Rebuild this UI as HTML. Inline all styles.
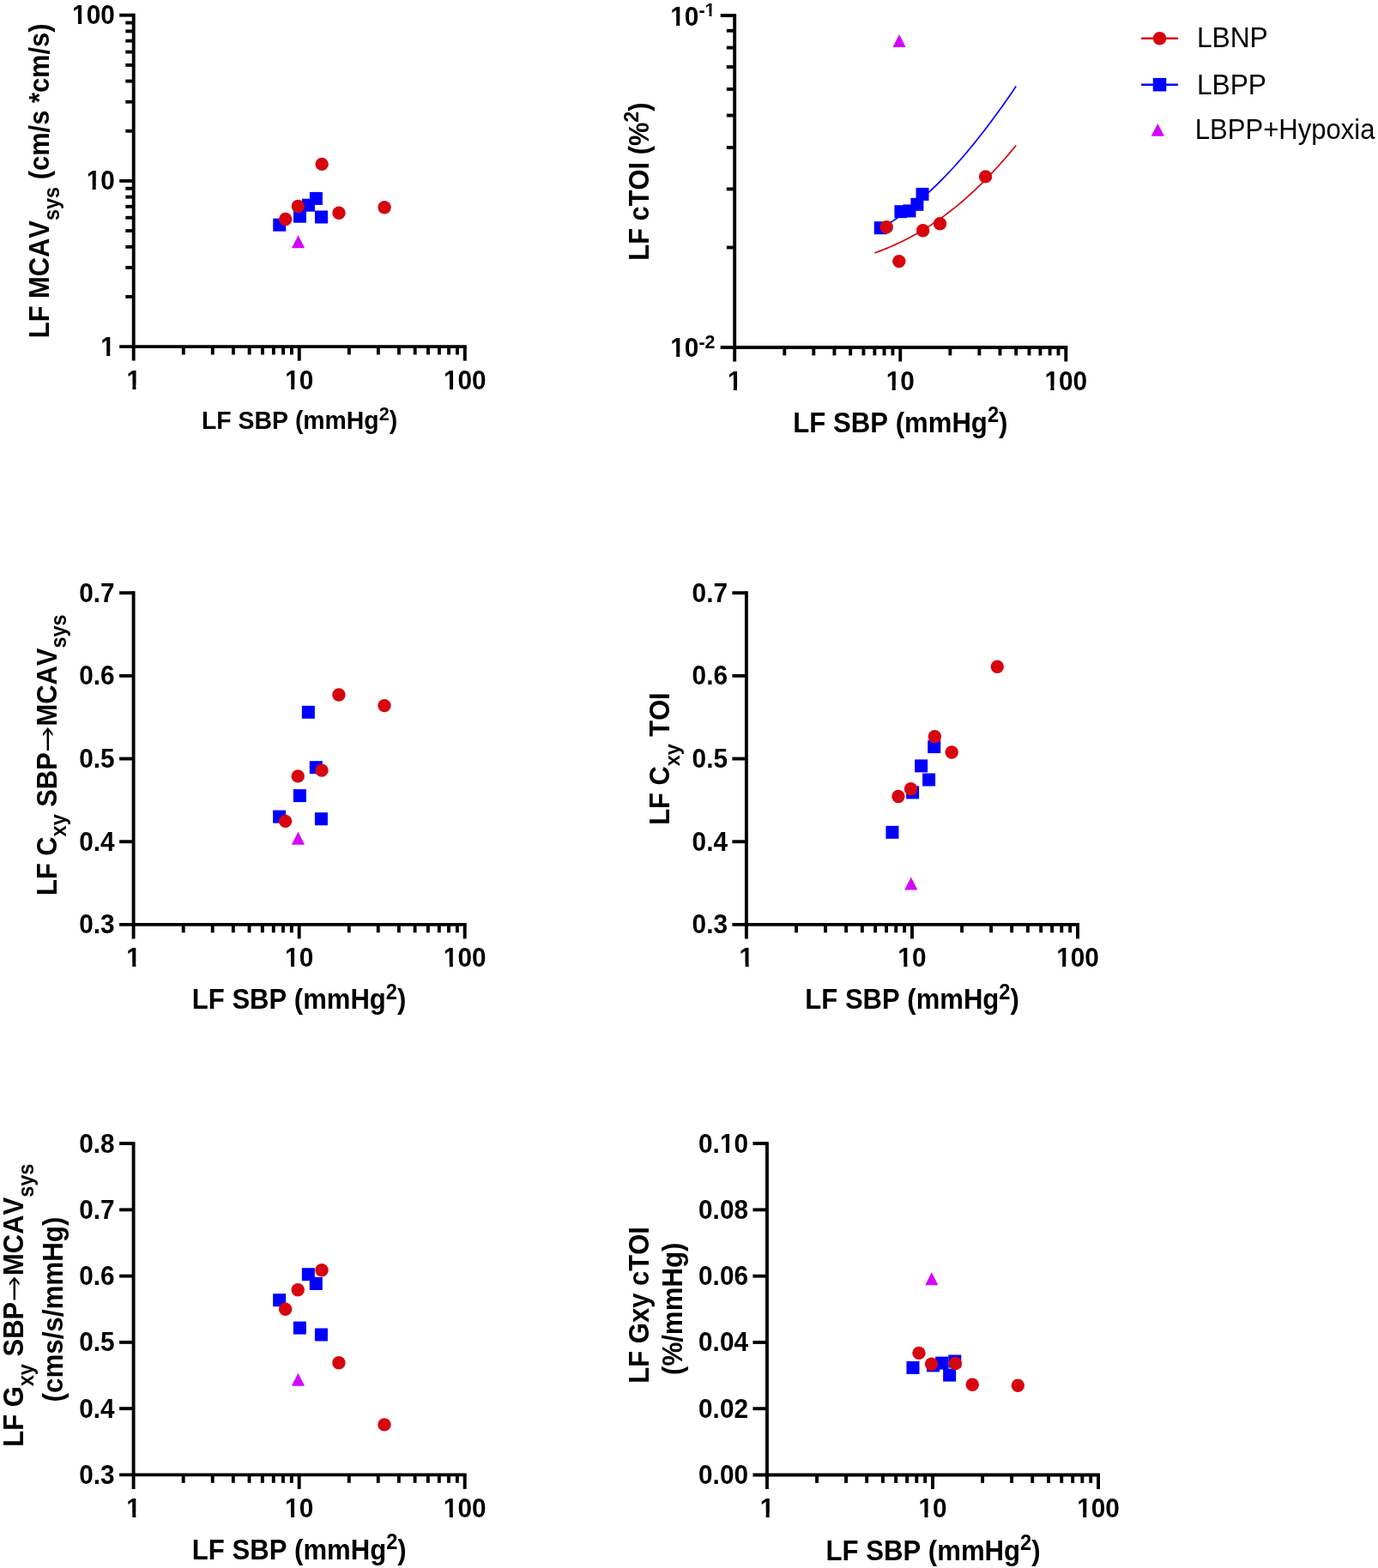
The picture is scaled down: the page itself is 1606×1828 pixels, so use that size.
<!DOCTYPE html>
<html><head><meta charset="utf-8"><title>LF SBP scatter plots</title>
<style>html,body{margin:0;padding:0;background:#fff;width:1606px;height:1828px;overflow:hidden}svg{display:block}</style>
</head><body>
<svg width="1606" height="1828" viewBox="0 0 1606 1828" font-family="'Liberation Sans', Arial, Helvetica, sans-serif" style="font-kerning:none;font-feature-settings:'kern' 0">
<rect width="1606" height="1828" fill="#fff"/>
<line x1="155.7" y1="15.75" x2="155.7" y2="420.6" stroke="#000" stroke-width="3.9" stroke-linecap="butt"/>
<line x1="139.2" y1="404.1" x2="543.75" y2="404.1" stroke="#000" stroke-width="3.9" stroke-linecap="butt"/>
<line x1="213.81" y1="404.1" x2="213.81" y2="413.5" stroke="#000" stroke-width="3.9" stroke-linecap="butt"/>
<line x1="247.81" y1="404.1" x2="247.81" y2="413.5" stroke="#000" stroke-width="3.9" stroke-linecap="butt"/>
<line x1="271.93" y1="404.1" x2="271.93" y2="413.5" stroke="#000" stroke-width="3.9" stroke-linecap="butt"/>
<line x1="290.64" y1="404.1" x2="290.64" y2="413.5" stroke="#000" stroke-width="3.9" stroke-linecap="butt"/>
<line x1="305.92" y1="404.1" x2="305.92" y2="413.5" stroke="#000" stroke-width="3.9" stroke-linecap="butt"/>
<line x1="318.85" y1="404.1" x2="318.85" y2="413.5" stroke="#000" stroke-width="3.9" stroke-linecap="butt"/>
<line x1="330.04" y1="404.1" x2="330.04" y2="413.5" stroke="#000" stroke-width="3.9" stroke-linecap="butt"/>
<line x1="339.92" y1="404.1" x2="339.92" y2="413.5" stroke="#000" stroke-width="3.9" stroke-linecap="butt"/>
<line x1="406.86" y1="404.1" x2="406.86" y2="413.5" stroke="#000" stroke-width="3.9" stroke-linecap="butt"/>
<line x1="440.86" y1="404.1" x2="440.86" y2="413.5" stroke="#000" stroke-width="3.9" stroke-linecap="butt"/>
<line x1="464.98" y1="404.1" x2="464.98" y2="413.5" stroke="#000" stroke-width="3.9" stroke-linecap="butt"/>
<line x1="483.69" y1="404.1" x2="483.69" y2="413.5" stroke="#000" stroke-width="3.9" stroke-linecap="butt"/>
<line x1="498.97" y1="404.1" x2="498.97" y2="413.5" stroke="#000" stroke-width="3.9" stroke-linecap="butt"/>
<line x1="511.9" y1="404.1" x2="511.9" y2="413.5" stroke="#000" stroke-width="3.9" stroke-linecap="butt"/>
<line x1="523.09" y1="404.1" x2="523.09" y2="413.5" stroke="#000" stroke-width="3.9" stroke-linecap="butt"/>
<line x1="532.97" y1="404.1" x2="532.97" y2="413.5" stroke="#000" stroke-width="3.9" stroke-linecap="butt"/>
<line x1="348.75" y1="404.1" x2="348.75" y2="420.6" stroke="#000" stroke-width="3.9" stroke-linecap="butt"/>
<line x1="541.8" y1="404.1" x2="541.8" y2="420.6" stroke="#000" stroke-width="3.9" stroke-linecap="butt"/>
<line x1="146.3" y1="345.94" x2="155.7" y2="345.94" stroke="#000" stroke-width="3.9" stroke-linecap="butt"/>
<line x1="146.3" y1="311.92" x2="155.7" y2="311.92" stroke="#000" stroke-width="3.9" stroke-linecap="butt"/>
<line x1="146.3" y1="287.78" x2="155.7" y2="287.78" stroke="#000" stroke-width="3.9" stroke-linecap="butt"/>
<line x1="146.3" y1="269.06" x2="155.7" y2="269.06" stroke="#000" stroke-width="3.9" stroke-linecap="butt"/>
<line x1="146.3" y1="253.76" x2="155.7" y2="253.76" stroke="#000" stroke-width="3.9" stroke-linecap="butt"/>
<line x1="146.3" y1="240.83" x2="155.7" y2="240.83" stroke="#000" stroke-width="3.9" stroke-linecap="butt"/>
<line x1="146.3" y1="229.62" x2="155.7" y2="229.62" stroke="#000" stroke-width="3.9" stroke-linecap="butt"/>
<line x1="146.3" y1="219.74" x2="155.7" y2="219.74" stroke="#000" stroke-width="3.9" stroke-linecap="butt"/>
<line x1="146.3" y1="152.74" x2="155.7" y2="152.74" stroke="#000" stroke-width="3.9" stroke-linecap="butt"/>
<line x1="146.3" y1="118.72" x2="155.7" y2="118.72" stroke="#000" stroke-width="3.9" stroke-linecap="butt"/>
<line x1="146.3" y1="94.58" x2="155.7" y2="94.58" stroke="#000" stroke-width="3.9" stroke-linecap="butt"/>
<line x1="146.3" y1="75.86" x2="155.7" y2="75.86" stroke="#000" stroke-width="3.9" stroke-linecap="butt"/>
<line x1="146.3" y1="60.56" x2="155.7" y2="60.56" stroke="#000" stroke-width="3.9" stroke-linecap="butt"/>
<line x1="146.3" y1="47.63" x2="155.7" y2="47.63" stroke="#000" stroke-width="3.9" stroke-linecap="butt"/>
<line x1="146.3" y1="36.42" x2="155.7" y2="36.42" stroke="#000" stroke-width="3.9" stroke-linecap="butt"/>
<line x1="146.3" y1="26.54" x2="155.7" y2="26.54" stroke="#000" stroke-width="3.9" stroke-linecap="butt"/>
<line x1="139.2" y1="210.9" x2="155.7" y2="210.9" stroke="#000" stroke-width="3.9" stroke-linecap="butt"/>
<line x1="139.2" y1="17.7" x2="155.7" y2="17.7" stroke="#000" stroke-width="3.9" stroke-linecap="butt"/>
<text transform="translate(155.7 453.6) scale(1 1.03)" text-anchor="middle" font-size="29.8" font-weight="bold">1</text>
<rect x="148.49" y="448.67" width="5.88" height="5.83" fill="#fff"/>
<rect x="158.46" y="448.67" width="5.5" height="5.83" fill="#fff"/>
<text transform="translate(348.75 453.6) scale(1 1.03)" text-anchor="middle" font-size="29.8" font-weight="bold">10</text>
<rect x="333.25" y="448.67" width="5.88" height="5.83" fill="#fff"/>
<rect x="343.22" y="448.67" width="5.5" height="5.83" fill="#fff"/>
<text transform="translate(541.8 453.6) scale(1 1.03)" text-anchor="middle" font-size="29.8" font-weight="bold">100</text>
<rect x="518.02" y="448.67" width="5.88" height="5.83" fill="#fff"/>
<rect x="527.98" y="448.67" width="5.5" height="5.83" fill="#fff"/>
<text transform="translate(133.8 414.62) scale(1 1.03)" text-anchor="end" font-size="29.8" font-weight="bold">1</text>
<rect x="118.3" y="409.68" width="5.88" height="5.83" fill="#fff"/>
<rect x="128.27" y="409.68" width="5.5" height="5.83" fill="#fff"/>
<text transform="translate(133.8 221.42) scale(1 1.03)" text-anchor="end" font-size="29.8" font-weight="bold">10</text>
<rect x="101.73" y="216.48" width="5.88" height="5.83" fill="#fff"/>
<rect x="111.7" y="216.48" width="5.5" height="5.83" fill="#fff"/>
<text transform="translate(133.8 28.22) scale(1 1.03)" text-anchor="end" font-size="29.8" font-weight="bold">100</text>
<rect x="85.16" y="23.28" width="5.88" height="5.83" fill="#fff"/>
<rect x="95.12" y="23.28" width="5.5" height="5.83" fill="#fff"/>
<text transform="translate(235 500.1) scale(1 1.06)" font-size="28.42" font-weight="bold" fill="#000">LF SBP (mmHg<tspan dy="-9.95" font-size="21.6">2</tspan><tspan dy="9.95">)</tspan></text>
<text transform="translate(57.4 394.17) rotate(-90) scale(1 1.06)" font-size="30.88" font-weight="bold">LF MCAV<tspan dy="11.3" font-size="23.47">sys</tspan><tspan dy="-11.3"> (cm/s *cm/s)</tspan></text>
<rect x="318.24" y="254.7" width="15" height="15" fill="#0000ff"/>
<rect x="341.92" y="244.7" width="15" height="15" fill="#0000ff"/>
<rect x="351.94" y="231.7" width="15" height="15" fill="#0000ff"/>
<rect x="360.89" y="223.9" width="15" height="15" fill="#0000ff"/>
<rect x="367.03" y="245.5" width="15" height="15" fill="#0000ff"/>
<path d="M347.57 274.15L355.17 289.25L339.97 289.25Z" fill="#d506fa"/>
<circle cx="332.72" cy="255.5" r="7.7" fill="#d7060e"/>
<circle cx="347.31" cy="240.5" r="7.7" fill="#d7060e"/>
<circle cx="375.14" cy="191.4" r="7.7" fill="#d7060e"/>
<circle cx="395" cy="248.3" r="7.7" fill="#d7060e"/>
<circle cx="448.08" cy="241.8" r="7.7" fill="#d7060e"/>
<line x1="856.2" y1="16.15" x2="856.2" y2="421.5" stroke="#000" stroke-width="3.9" stroke-linecap="butt"/>
<line x1="839.7" y1="405" x2="1244.25" y2="405" stroke="#000" stroke-width="3.9" stroke-linecap="butt"/>
<line x1="914.31" y1="405" x2="914.31" y2="414.4" stroke="#000" stroke-width="3.9" stroke-linecap="butt"/>
<line x1="948.31" y1="405" x2="948.31" y2="414.4" stroke="#000" stroke-width="3.9" stroke-linecap="butt"/>
<line x1="972.43" y1="405" x2="972.43" y2="414.4" stroke="#000" stroke-width="3.9" stroke-linecap="butt"/>
<line x1="991.14" y1="405" x2="991.14" y2="414.4" stroke="#000" stroke-width="3.9" stroke-linecap="butt"/>
<line x1="1006.42" y1="405" x2="1006.42" y2="414.4" stroke="#000" stroke-width="3.9" stroke-linecap="butt"/>
<line x1="1019.35" y1="405" x2="1019.35" y2="414.4" stroke="#000" stroke-width="3.9" stroke-linecap="butt"/>
<line x1="1030.54" y1="405" x2="1030.54" y2="414.4" stroke="#000" stroke-width="3.9" stroke-linecap="butt"/>
<line x1="1040.42" y1="405" x2="1040.42" y2="414.4" stroke="#000" stroke-width="3.9" stroke-linecap="butt"/>
<line x1="1107.36" y1="405" x2="1107.36" y2="414.4" stroke="#000" stroke-width="3.9" stroke-linecap="butt"/>
<line x1="1141.36" y1="405" x2="1141.36" y2="414.4" stroke="#000" stroke-width="3.9" stroke-linecap="butt"/>
<line x1="1165.48" y1="405" x2="1165.48" y2="414.4" stroke="#000" stroke-width="3.9" stroke-linecap="butt"/>
<line x1="1184.19" y1="405" x2="1184.19" y2="414.4" stroke="#000" stroke-width="3.9" stroke-linecap="butt"/>
<line x1="1199.47" y1="405" x2="1199.47" y2="414.4" stroke="#000" stroke-width="3.9" stroke-linecap="butt"/>
<line x1="1212.4" y1="405" x2="1212.4" y2="414.4" stroke="#000" stroke-width="3.9" stroke-linecap="butt"/>
<line x1="1223.59" y1="405" x2="1223.59" y2="414.4" stroke="#000" stroke-width="3.9" stroke-linecap="butt"/>
<line x1="1233.47" y1="405" x2="1233.47" y2="414.4" stroke="#000" stroke-width="3.9" stroke-linecap="butt"/>
<line x1="1049.25" y1="405" x2="1049.25" y2="421.5" stroke="#000" stroke-width="3.9" stroke-linecap="butt"/>
<line x1="1242.3" y1="405" x2="1242.3" y2="421.5" stroke="#000" stroke-width="3.9" stroke-linecap="butt"/>
<line x1="846.8" y1="288.53" x2="856.2" y2="288.53" stroke="#000" stroke-width="3.9" stroke-linecap="butt"/>
<line x1="846.8" y1="220.4" x2="856.2" y2="220.4" stroke="#000" stroke-width="3.9" stroke-linecap="butt"/>
<line x1="846.8" y1="172.06" x2="856.2" y2="172.06" stroke="#000" stroke-width="3.9" stroke-linecap="butt"/>
<line x1="846.8" y1="134.57" x2="856.2" y2="134.57" stroke="#000" stroke-width="3.9" stroke-linecap="butt"/>
<line x1="846.8" y1="103.93" x2="856.2" y2="103.93" stroke="#000" stroke-width="3.9" stroke-linecap="butt"/>
<line x1="846.8" y1="78.03" x2="856.2" y2="78.03" stroke="#000" stroke-width="3.9" stroke-linecap="butt"/>
<line x1="846.8" y1="55.59" x2="856.2" y2="55.59" stroke="#000" stroke-width="3.9" stroke-linecap="butt"/>
<line x1="846.8" y1="35.8" x2="856.2" y2="35.8" stroke="#000" stroke-width="3.9" stroke-linecap="butt"/>
<line x1="839.7" y1="18.1" x2="856.2" y2="18.1" stroke="#000" stroke-width="3.9" stroke-linecap="butt"/>
<text transform="translate(856.2 454.5) scale(1 1.03)" text-anchor="middle" font-size="29.8" font-weight="bold">1</text>
<rect x="848.99" y="449.57" width="5.88" height="5.83" fill="#fff"/>
<rect x="858.96" y="449.57" width="5.5" height="5.83" fill="#fff"/>
<text transform="translate(1049.25 454.5) scale(1 1.03)" text-anchor="middle" font-size="29.8" font-weight="bold">10</text>
<rect x="1033.75" y="449.57" width="5.88" height="5.83" fill="#fff"/>
<rect x="1043.72" y="449.57" width="5.5" height="5.83" fill="#fff"/>
<text transform="translate(1242.3 454.5) scale(1 1.03)" text-anchor="middle" font-size="29.8" font-weight="bold">100</text>
<rect x="1218.52" y="449.57" width="5.88" height="5.83" fill="#fff"/>
<rect x="1228.48" y="449.57" width="5.5" height="5.83" fill="#fff"/>
<text transform="translate(781.22 29.6) scale(1 1.03)" font-size="29.8" font-weight="bold" fill="#000">10<tspan dy="-10.28" font-size="21.46">-1</tspan></text>
<rect x="782.3" y="24.67" width="5.88" height="5.83" fill="#fff"/>
<rect x="792.27" y="24.67" width="5.5" height="5.83" fill="#fff"/>
<rect x="822.07" y="14.96" width="4.46" height="4.96" fill="#fff"/>
<rect x="829.47" y="14.96" width="4.18" height="4.96" fill="#fff"/>
<text transform="translate(781.22 416.4) scale(1 1.03)" font-size="29.8" font-weight="bold" fill="#000">10<tspan dy="-10.28" font-size="21.46">-2</tspan></text>
<rect x="782.3" y="411.47" width="5.88" height="5.83" fill="#fff"/>
<rect x="792.27" y="411.47" width="5.5" height="5.83" fill="#fff"/>
<text transform="translate(924.32 504) scale(1 1.06)" font-size="31.14" font-weight="bold" fill="#000">LF SBP (mmHg<tspan dy="-10.9" font-size="23.66">2</tspan><tspan dy="10.9">)</tspan></text>
<text transform="translate(755.6 303.66) rotate(-90) scale(1 1.06)" font-size="30.85" font-weight="bold">LF cTOI (%<tspan dy="-10.8" font-size="23.44">2</tspan><tspan dy="10.8">)</tspan></text>
<polyline points="1019.35,270.93 1022.09,269.34 1024.84,267.71 1027.59,266.04 1030.34,264.33 1033.08,262.59 1035.83,260.8 1038.58,258.98 1041.32,257.11 1044.07,255.21 1046.82,253.26 1049.57,251.28 1052.31,249.25 1055.06,247.18 1057.81,245.06 1060.56,242.91 1063.3,240.71 1066.05,238.46 1068.8,236.18 1071.55,233.85 1074.29,231.47 1077.04,229.05 1079.79,226.59 1082.53,224.08 1085.28,221.53 1088.03,218.93 1090.78,216.29 1093.52,213.6 1096.27,210.86 1099.02,208.09 1101.77,205.26 1104.51,202.39 1107.26,199.48 1110.01,196.52 1112.76,193.52 1115.5,190.47 1118.25,187.38 1121,184.24 1123.74,181.06 1126.49,177.84 1129.24,174.57 1131.99,171.26 1134.73,167.9 1137.48,164.5 1140.23,161.06 1142.98,157.58 1145.72,154.06 1148.47,150.49 1151.22,146.89 1153.97,143.24 1156.71,139.55 1159.46,135.83 1162.21,132.06 1164.95,128.25 1167.7,124.41 1170.45,120.53 1173.2,116.61 1175.94,112.66 1178.69,108.67 1181.44,104.64 1184.19,100.58" fill="none" stroke="#0000ff" stroke-width="1.7" stroke-linejoin="round"/>
<polyline points="1019.35,294.96 1022.09,293.95 1024.84,292.92 1027.59,291.85 1030.34,290.76 1033.08,289.64 1035.83,288.49 1038.58,287.31 1041.32,286.1 1044.07,284.86 1046.82,283.58 1049.57,282.27 1052.31,280.93 1055.06,279.56 1057.81,278.15 1060.56,276.71 1063.3,275.23 1066.05,273.72 1068.8,272.17 1071.55,270.59 1074.29,268.96 1077.04,267.3 1079.79,265.6 1082.53,263.87 1085.28,262.09 1088.03,260.27 1090.78,258.42 1093.52,256.52 1096.27,254.58 1099.02,252.6 1101.77,250.58 1104.51,248.52 1107.26,246.41 1110.01,244.26 1112.76,242.07 1115.5,239.84 1118.25,237.56 1121,235.23 1123.74,232.87 1126.49,230.46 1129.24,228 1131.99,225.5 1134.73,222.96 1137.48,220.37 1140.23,217.73 1142.98,215.05 1145.72,212.33 1148.47,209.56 1151.22,206.74 1153.97,203.88 1156.71,200.98 1159.46,198.03 1162.21,195.03 1164.95,191.99 1167.7,188.91 1170.45,185.78 1173.2,182.61 1175.94,179.39 1178.69,176.13 1181.44,172.83 1184.19,169.48" fill="none" stroke="#d7060e" stroke-width="1.7" stroke-linejoin="round"/>
<rect x="1018.74" y="258.2" width="15" height="15" fill="#0000ff"/>
<rect x="1042.42" y="239.2" width="15" height="15" fill="#0000ff"/>
<rect x="1052.44" y="238.4" width="15" height="15" fill="#0000ff"/>
<rect x="1061.39" y="230.8" width="15" height="15" fill="#0000ff"/>
<rect x="1067.53" y="218.9" width="15" height="15" fill="#0000ff"/>
<path d="M1048.07 39.9L1055.67 55L1040.47 55Z" fill="#d506fa"/>
<circle cx="1033.22" cy="264.7" r="7.7" fill="#d7060e"/>
<circle cx="1047.81" cy="304.6" r="7.7" fill="#d7060e"/>
<circle cx="1075.64" cy="268.8" r="7.7" fill="#d7060e"/>
<circle cx="1095.5" cy="260.7" r="7.7" fill="#d7060e"/>
<circle cx="1148.58" cy="205.9" r="7.7" fill="#d7060e"/>
<line x1="155.6" y1="689.25" x2="155.6" y2="1094.4" stroke="#000" stroke-width="3.9" stroke-linecap="butt"/>
<line x1="139.1" y1="1077.9" x2="543.65" y2="1077.9" stroke="#000" stroke-width="3.9" stroke-linecap="butt"/>
<line x1="213.71" y1="1077.9" x2="213.71" y2="1087.3" stroke="#000" stroke-width="3.9" stroke-linecap="butt"/>
<line x1="247.71" y1="1077.9" x2="247.71" y2="1087.3" stroke="#000" stroke-width="3.9" stroke-linecap="butt"/>
<line x1="271.83" y1="1077.9" x2="271.83" y2="1087.3" stroke="#000" stroke-width="3.9" stroke-linecap="butt"/>
<line x1="290.54" y1="1077.9" x2="290.54" y2="1087.3" stroke="#000" stroke-width="3.9" stroke-linecap="butt"/>
<line x1="305.82" y1="1077.9" x2="305.82" y2="1087.3" stroke="#000" stroke-width="3.9" stroke-linecap="butt"/>
<line x1="318.75" y1="1077.9" x2="318.75" y2="1087.3" stroke="#000" stroke-width="3.9" stroke-linecap="butt"/>
<line x1="329.94" y1="1077.9" x2="329.94" y2="1087.3" stroke="#000" stroke-width="3.9" stroke-linecap="butt"/>
<line x1="339.82" y1="1077.9" x2="339.82" y2="1087.3" stroke="#000" stroke-width="3.9" stroke-linecap="butt"/>
<line x1="406.76" y1="1077.9" x2="406.76" y2="1087.3" stroke="#000" stroke-width="3.9" stroke-linecap="butt"/>
<line x1="440.76" y1="1077.9" x2="440.76" y2="1087.3" stroke="#000" stroke-width="3.9" stroke-linecap="butt"/>
<line x1="464.88" y1="1077.9" x2="464.88" y2="1087.3" stroke="#000" stroke-width="3.9" stroke-linecap="butt"/>
<line x1="483.59" y1="1077.9" x2="483.59" y2="1087.3" stroke="#000" stroke-width="3.9" stroke-linecap="butt"/>
<line x1="498.87" y1="1077.9" x2="498.87" y2="1087.3" stroke="#000" stroke-width="3.9" stroke-linecap="butt"/>
<line x1="511.8" y1="1077.9" x2="511.8" y2="1087.3" stroke="#000" stroke-width="3.9" stroke-linecap="butt"/>
<line x1="522.99" y1="1077.9" x2="522.99" y2="1087.3" stroke="#000" stroke-width="3.9" stroke-linecap="butt"/>
<line x1="532.87" y1="1077.9" x2="532.87" y2="1087.3" stroke="#000" stroke-width="3.9" stroke-linecap="butt"/>
<line x1="348.65" y1="1077.9" x2="348.65" y2="1094.4" stroke="#000" stroke-width="3.9" stroke-linecap="butt"/>
<line x1="541.7" y1="1077.9" x2="541.7" y2="1094.4" stroke="#000" stroke-width="3.9" stroke-linecap="butt"/>
<line x1="139.1" y1="981.23" x2="155.6" y2="981.23" stroke="#000" stroke-width="3.9" stroke-linecap="butt"/>
<line x1="139.1" y1="884.55" x2="155.6" y2="884.55" stroke="#000" stroke-width="3.9" stroke-linecap="butt"/>
<line x1="139.1" y1="787.88" x2="155.6" y2="787.88" stroke="#000" stroke-width="3.9" stroke-linecap="butt"/>
<line x1="139.1" y1="691.2" x2="155.6" y2="691.2" stroke="#000" stroke-width="3.9" stroke-linecap="butt"/>
<text transform="translate(155.6 1127.4) scale(1 1.03)" text-anchor="middle" font-size="29.8" font-weight="bold">1</text>
<rect x="148.39" y="1122.47" width="5.88" height="5.83" fill="#fff"/>
<rect x="158.36" y="1122.47" width="5.5" height="5.83" fill="#fff"/>
<text transform="translate(348.65 1127.4) scale(1 1.03)" text-anchor="middle" font-size="29.8" font-weight="bold">10</text>
<rect x="333.15" y="1122.47" width="5.88" height="5.83" fill="#fff"/>
<rect x="343.12" y="1122.47" width="5.5" height="5.83" fill="#fff"/>
<text transform="translate(541.7 1127.4) scale(1 1.03)" text-anchor="middle" font-size="29.8" font-weight="bold">100</text>
<rect x="517.92" y="1122.47" width="5.88" height="5.83" fill="#fff"/>
<rect x="527.88" y="1122.47" width="5.5" height="5.83" fill="#fff"/>
<text transform="translate(133.7 1088.42) scale(1 1.03)" text-anchor="end" font-size="29.8" font-weight="bold">0.3</text>
<text transform="translate(133.7 991.74) scale(1 1.03)" text-anchor="end" font-size="29.8" font-weight="bold">0.4</text>
<text transform="translate(133.7 895.07) scale(1 1.03)" text-anchor="end" font-size="29.8" font-weight="bold">0.5</text>
<text transform="translate(133.7 798.39) scale(1 1.03)" text-anchor="end" font-size="29.8" font-weight="bold">0.6</text>
<text transform="translate(133.7 701.72) scale(1 1.03)" text-anchor="end" font-size="29.8" font-weight="bold">0.7</text>
<text transform="translate(223.82 1176.1) scale(1 1.06)" font-size="31.07" font-weight="bold" fill="#000">LF SBP (mmHg<tspan dy="-10.88" font-size="23.62">2</tspan><tspan dy="10.88">)</tspan></text>
<text transform="translate(65.5 1043.97) rotate(-90) scale(1 1.06)" font-size="30.88" font-weight="bold">LF C<tspan dy="11.3" font-size="23.47">xy</tspan><tspan dy="-11.3"> SBP</tspan><tspan dy="2.01" font-family="IPAGothic, 'Noto Sans CJK JP', sans-serif" font-weight="normal">→</tspan><tspan dy="-2.01">MCAV</tspan><tspan dy="11.3" font-size="23.47">sys</tspan></text>
<rect x="318.14" y="944.6" width="15" height="15" fill="#0000ff"/>
<rect x="341.82" y="920.1" width="15" height="15" fill="#0000ff"/>
<rect x="351.84" y="822.8" width="15" height="15" fill="#0000ff"/>
<rect x="360.79" y="887.2" width="15" height="15" fill="#0000ff"/>
<rect x="366.93" y="947.2" width="15" height="15" fill="#0000ff"/>
<path d="M347.47 969.55L355.07 984.65L339.87 984.65Z" fill="#d506fa"/>
<circle cx="332.62" cy="957.4" r="7.7" fill="#d7060e"/>
<circle cx="347.21" cy="904.9" r="7.7" fill="#d7060e"/>
<circle cx="375.04" cy="898.1" r="7.7" fill="#d7060e"/>
<circle cx="394.9" cy="810" r="7.7" fill="#d7060e"/>
<circle cx="447.98" cy="822.6" r="7.7" fill="#d7060e"/>
<line x1="869.9" y1="689.25" x2="869.9" y2="1094.4" stroke="#000" stroke-width="3.9" stroke-linecap="butt"/>
<line x1="853.4" y1="1077.9" x2="1257.95" y2="1077.9" stroke="#000" stroke-width="3.9" stroke-linecap="butt"/>
<line x1="928.01" y1="1077.9" x2="928.01" y2="1087.3" stroke="#000" stroke-width="3.9" stroke-linecap="butt"/>
<line x1="962.01" y1="1077.9" x2="962.01" y2="1087.3" stroke="#000" stroke-width="3.9" stroke-linecap="butt"/>
<line x1="986.13" y1="1077.9" x2="986.13" y2="1087.3" stroke="#000" stroke-width="3.9" stroke-linecap="butt"/>
<line x1="1004.84" y1="1077.9" x2="1004.84" y2="1087.3" stroke="#000" stroke-width="3.9" stroke-linecap="butt"/>
<line x1="1020.12" y1="1077.9" x2="1020.12" y2="1087.3" stroke="#000" stroke-width="3.9" stroke-linecap="butt"/>
<line x1="1033.05" y1="1077.9" x2="1033.05" y2="1087.3" stroke="#000" stroke-width="3.9" stroke-linecap="butt"/>
<line x1="1044.24" y1="1077.9" x2="1044.24" y2="1087.3" stroke="#000" stroke-width="3.9" stroke-linecap="butt"/>
<line x1="1054.12" y1="1077.9" x2="1054.12" y2="1087.3" stroke="#000" stroke-width="3.9" stroke-linecap="butt"/>
<line x1="1121.06" y1="1077.9" x2="1121.06" y2="1087.3" stroke="#000" stroke-width="3.9" stroke-linecap="butt"/>
<line x1="1155.06" y1="1077.9" x2="1155.06" y2="1087.3" stroke="#000" stroke-width="3.9" stroke-linecap="butt"/>
<line x1="1179.18" y1="1077.9" x2="1179.18" y2="1087.3" stroke="#000" stroke-width="3.9" stroke-linecap="butt"/>
<line x1="1197.89" y1="1077.9" x2="1197.89" y2="1087.3" stroke="#000" stroke-width="3.9" stroke-linecap="butt"/>
<line x1="1213.17" y1="1077.9" x2="1213.17" y2="1087.3" stroke="#000" stroke-width="3.9" stroke-linecap="butt"/>
<line x1="1226.1" y1="1077.9" x2="1226.1" y2="1087.3" stroke="#000" stroke-width="3.9" stroke-linecap="butt"/>
<line x1="1237.29" y1="1077.9" x2="1237.29" y2="1087.3" stroke="#000" stroke-width="3.9" stroke-linecap="butt"/>
<line x1="1247.17" y1="1077.9" x2="1247.17" y2="1087.3" stroke="#000" stroke-width="3.9" stroke-linecap="butt"/>
<line x1="1062.95" y1="1077.9" x2="1062.95" y2="1094.4" stroke="#000" stroke-width="3.9" stroke-linecap="butt"/>
<line x1="1256" y1="1077.9" x2="1256" y2="1094.4" stroke="#000" stroke-width="3.9" stroke-linecap="butt"/>
<line x1="853.4" y1="981.23" x2="869.9" y2="981.23" stroke="#000" stroke-width="3.9" stroke-linecap="butt"/>
<line x1="853.4" y1="884.55" x2="869.9" y2="884.55" stroke="#000" stroke-width="3.9" stroke-linecap="butt"/>
<line x1="853.4" y1="787.88" x2="869.9" y2="787.88" stroke="#000" stroke-width="3.9" stroke-linecap="butt"/>
<line x1="853.4" y1="691.2" x2="869.9" y2="691.2" stroke="#000" stroke-width="3.9" stroke-linecap="butt"/>
<text transform="translate(869.9 1127.4) scale(1 1.03)" text-anchor="middle" font-size="29.8" font-weight="bold">1</text>
<rect x="862.69" y="1122.47" width="5.88" height="5.83" fill="#fff"/>
<rect x="872.66" y="1122.47" width="5.5" height="5.83" fill="#fff"/>
<text transform="translate(1062.95 1127.4) scale(1 1.03)" text-anchor="middle" font-size="29.8" font-weight="bold">10</text>
<rect x="1047.45" y="1122.47" width="5.88" height="5.83" fill="#fff"/>
<rect x="1057.42" y="1122.47" width="5.5" height="5.83" fill="#fff"/>
<text transform="translate(1256 1127.4) scale(1 1.03)" text-anchor="middle" font-size="29.8" font-weight="bold">100</text>
<rect x="1232.22" y="1122.47" width="5.88" height="5.83" fill="#fff"/>
<rect x="1242.18" y="1122.47" width="5.5" height="5.83" fill="#fff"/>
<text transform="translate(848 1088.42) scale(1 1.03)" text-anchor="end" font-size="29.8" font-weight="bold">0.3</text>
<text transform="translate(848 991.74) scale(1 1.03)" text-anchor="end" font-size="29.8" font-weight="bold">0.4</text>
<text transform="translate(848 895.07) scale(1 1.03)" text-anchor="end" font-size="29.8" font-weight="bold">0.5</text>
<text transform="translate(848 798.39) scale(1 1.03)" text-anchor="end" font-size="29.8" font-weight="bold">0.6</text>
<text transform="translate(848 701.72) scale(1 1.03)" text-anchor="end" font-size="29.8" font-weight="bold">0.7</text>
<text transform="translate(938.32 1176.2) scale(1 1.06)" font-size="31.06" font-weight="bold" fill="#000">LF SBP (mmHg<tspan dy="-10.87" font-size="23.61">2</tspan><tspan dy="10.87">)</tspan></text>
<text transform="translate(779.9 961.76) rotate(-90) scale(1 1.06)" font-size="30.83" font-weight="bold">LF C<tspan dy="11.29" font-size="23.43">xy</tspan><tspan dy="-11.29"> TOI</tspan></text>
<rect x="1032.44" y="962.8" width="15" height="15" fill="#0000ff"/>
<rect x="1056.12" y="916.4" width="15" height="15" fill="#0000ff"/>
<rect x="1066.14" y="885.4" width="15" height="15" fill="#0000ff"/>
<rect x="1075.09" y="901.5" width="15" height="15" fill="#0000ff"/>
<rect x="1081.23" y="863.1" width="15" height="15" fill="#0000ff"/>
<path d="M1061.77 1022.45L1069.37 1037.55L1054.17 1037.55Z" fill="#d506fa"/>
<circle cx="1046.92" cy="928.5" r="7.7" fill="#d7060e"/>
<circle cx="1061.51" cy="919.7" r="7.7" fill="#d7060e"/>
<circle cx="1089.34" cy="858.8" r="7.7" fill="#d7060e"/>
<circle cx="1109.2" cy="877" r="7.7" fill="#d7060e"/>
<circle cx="1162.28" cy="777.3" r="7.7" fill="#d7060e"/>
<line x1="155.6" y1="1331.15" x2="155.6" y2="1735.9" stroke="#000" stroke-width="3.9" stroke-linecap="butt"/>
<line x1="139.1" y1="1719.4" x2="543.65" y2="1719.4" stroke="#000" stroke-width="3.9" stroke-linecap="butt"/>
<line x1="213.71" y1="1719.4" x2="213.71" y2="1728.8" stroke="#000" stroke-width="3.9" stroke-linecap="butt"/>
<line x1="247.71" y1="1719.4" x2="247.71" y2="1728.8" stroke="#000" stroke-width="3.9" stroke-linecap="butt"/>
<line x1="271.83" y1="1719.4" x2="271.83" y2="1728.8" stroke="#000" stroke-width="3.9" stroke-linecap="butt"/>
<line x1="290.54" y1="1719.4" x2="290.54" y2="1728.8" stroke="#000" stroke-width="3.9" stroke-linecap="butt"/>
<line x1="305.82" y1="1719.4" x2="305.82" y2="1728.8" stroke="#000" stroke-width="3.9" stroke-linecap="butt"/>
<line x1="318.75" y1="1719.4" x2="318.75" y2="1728.8" stroke="#000" stroke-width="3.9" stroke-linecap="butt"/>
<line x1="329.94" y1="1719.4" x2="329.94" y2="1728.8" stroke="#000" stroke-width="3.9" stroke-linecap="butt"/>
<line x1="339.82" y1="1719.4" x2="339.82" y2="1728.8" stroke="#000" stroke-width="3.9" stroke-linecap="butt"/>
<line x1="406.76" y1="1719.4" x2="406.76" y2="1728.8" stroke="#000" stroke-width="3.9" stroke-linecap="butt"/>
<line x1="440.76" y1="1719.4" x2="440.76" y2="1728.8" stroke="#000" stroke-width="3.9" stroke-linecap="butt"/>
<line x1="464.88" y1="1719.4" x2="464.88" y2="1728.8" stroke="#000" stroke-width="3.9" stroke-linecap="butt"/>
<line x1="483.59" y1="1719.4" x2="483.59" y2="1728.8" stroke="#000" stroke-width="3.9" stroke-linecap="butt"/>
<line x1="498.87" y1="1719.4" x2="498.87" y2="1728.8" stroke="#000" stroke-width="3.9" stroke-linecap="butt"/>
<line x1="511.8" y1="1719.4" x2="511.8" y2="1728.8" stroke="#000" stroke-width="3.9" stroke-linecap="butt"/>
<line x1="522.99" y1="1719.4" x2="522.99" y2="1728.8" stroke="#000" stroke-width="3.9" stroke-linecap="butt"/>
<line x1="532.87" y1="1719.4" x2="532.87" y2="1728.8" stroke="#000" stroke-width="3.9" stroke-linecap="butt"/>
<line x1="348.65" y1="1719.4" x2="348.65" y2="1735.9" stroke="#000" stroke-width="3.9" stroke-linecap="butt"/>
<line x1="541.7" y1="1719.4" x2="541.7" y2="1735.9" stroke="#000" stroke-width="3.9" stroke-linecap="butt"/>
<line x1="139.1" y1="1642.14" x2="155.6" y2="1642.14" stroke="#000" stroke-width="3.9" stroke-linecap="butt"/>
<line x1="139.1" y1="1564.88" x2="155.6" y2="1564.88" stroke="#000" stroke-width="3.9" stroke-linecap="butt"/>
<line x1="139.1" y1="1487.62" x2="155.6" y2="1487.62" stroke="#000" stroke-width="3.9" stroke-linecap="butt"/>
<line x1="139.1" y1="1410.36" x2="155.6" y2="1410.36" stroke="#000" stroke-width="3.9" stroke-linecap="butt"/>
<line x1="139.1" y1="1333.1" x2="155.6" y2="1333.1" stroke="#000" stroke-width="3.9" stroke-linecap="butt"/>
<text transform="translate(155.6 1768.9) scale(1 1.03)" text-anchor="middle" font-size="29.8" font-weight="bold">1</text>
<rect x="148.39" y="1763.97" width="5.88" height="5.83" fill="#fff"/>
<rect x="158.36" y="1763.97" width="5.5" height="5.83" fill="#fff"/>
<text transform="translate(348.65 1768.9) scale(1 1.03)" text-anchor="middle" font-size="29.8" font-weight="bold">10</text>
<rect x="333.15" y="1763.97" width="5.88" height="5.83" fill="#fff"/>
<rect x="343.12" y="1763.97" width="5.5" height="5.83" fill="#fff"/>
<text transform="translate(541.7 1768.9) scale(1 1.03)" text-anchor="middle" font-size="29.8" font-weight="bold">100</text>
<rect x="517.92" y="1763.97" width="5.88" height="5.83" fill="#fff"/>
<rect x="527.88" y="1763.97" width="5.5" height="5.83" fill="#fff"/>
<text transform="translate(133.7 1729.92) scale(1 1.03)" text-anchor="end" font-size="29.8" font-weight="bold">0.3</text>
<text transform="translate(133.7 1652.66) scale(1 1.03)" text-anchor="end" font-size="29.8" font-weight="bold">0.4</text>
<text transform="translate(133.7 1575.4) scale(1 1.03)" text-anchor="end" font-size="29.8" font-weight="bold">0.5</text>
<text transform="translate(133.7 1498.14) scale(1 1.03)" text-anchor="end" font-size="29.8" font-weight="bold">0.6</text>
<text transform="translate(133.7 1420.88) scale(1 1.03)" text-anchor="end" font-size="29.8" font-weight="bold">0.7</text>
<text transform="translate(133.7 1343.62) scale(1 1.03)" text-anchor="end" font-size="29.8" font-weight="bold">0.8</text>
<text transform="translate(223.82 1818) scale(1 1.06)" font-size="31.12" font-weight="bold" fill="#000">LF SBP (mmHg<tspan dy="-10.89" font-size="23.65">2</tspan><tspan dy="10.89">)</tspan></text>
<text transform="translate(26.7 1686.67) rotate(-90) scale(1 1.06)" font-size="30.94" font-weight="bold">LF G<tspan dy="11.33" font-size="23.52">xy</tspan><tspan dy="-11.33"> SBP</tspan><tspan dy="2.01" font-family="IPAGothic, 'Noto Sans CJK JP', sans-serif" font-weight="normal">→</tspan><tspan dy="-2.01">MCAV</tspan><tspan dy="11.33" font-size="23.52">sys</tspan></text>
<text transform="translate(73 1634.46) rotate(-90) scale(1 1.06)" font-size="31.32" font-weight="bold">(cms/s/mmHg)</text>
<rect x="318.14" y="1508.2" width="15" height="15" fill="#0000ff"/>
<rect x="341.82" y="1540.6" width="15" height="15" fill="#0000ff"/>
<rect x="351.84" y="1478.2" width="15" height="15" fill="#0000ff"/>
<rect x="360.79" y="1489" width="15" height="15" fill="#0000ff"/>
<rect x="366.93" y="1548.5" width="15" height="15" fill="#0000ff"/>
<path d="M347.47 1600.65L355.07 1615.75L339.87 1615.75Z" fill="#d506fa"/>
<circle cx="332.62" cy="1526.3" r="7.7" fill="#d7060e"/>
<circle cx="347.21" cy="1503.8" r="7.7" fill="#d7060e"/>
<circle cx="375.04" cy="1480.8" r="7.7" fill="#d7060e"/>
<circle cx="394.9" cy="1588.7" r="7.7" fill="#d7060e"/>
<circle cx="447.98" cy="1660.9" r="7.7" fill="#d7060e"/>
<line x1="893.95" y1="1331.15" x2="893.95" y2="1736" stroke="#000" stroke-width="3.9" stroke-linecap="butt"/>
<line x1="877.45" y1="1719.5" x2="1282" y2="1719.5" stroke="#000" stroke-width="3.9" stroke-linecap="butt"/>
<line x1="952.06" y1="1719.5" x2="952.06" y2="1728.9" stroke="#000" stroke-width="3.9" stroke-linecap="butt"/>
<line x1="986.06" y1="1719.5" x2="986.06" y2="1728.9" stroke="#000" stroke-width="3.9" stroke-linecap="butt"/>
<line x1="1010.18" y1="1719.5" x2="1010.18" y2="1728.9" stroke="#000" stroke-width="3.9" stroke-linecap="butt"/>
<line x1="1028.89" y1="1719.5" x2="1028.89" y2="1728.9" stroke="#000" stroke-width="3.9" stroke-linecap="butt"/>
<line x1="1044.17" y1="1719.5" x2="1044.17" y2="1728.9" stroke="#000" stroke-width="3.9" stroke-linecap="butt"/>
<line x1="1057.1" y1="1719.5" x2="1057.1" y2="1728.9" stroke="#000" stroke-width="3.9" stroke-linecap="butt"/>
<line x1="1068.29" y1="1719.5" x2="1068.29" y2="1728.9" stroke="#000" stroke-width="3.9" stroke-linecap="butt"/>
<line x1="1078.17" y1="1719.5" x2="1078.17" y2="1728.9" stroke="#000" stroke-width="3.9" stroke-linecap="butt"/>
<line x1="1145.11" y1="1719.5" x2="1145.11" y2="1728.9" stroke="#000" stroke-width="3.9" stroke-linecap="butt"/>
<line x1="1179.11" y1="1719.5" x2="1179.11" y2="1728.9" stroke="#000" stroke-width="3.9" stroke-linecap="butt"/>
<line x1="1203.23" y1="1719.5" x2="1203.23" y2="1728.9" stroke="#000" stroke-width="3.9" stroke-linecap="butt"/>
<line x1="1221.94" y1="1719.5" x2="1221.94" y2="1728.9" stroke="#000" stroke-width="3.9" stroke-linecap="butt"/>
<line x1="1237.22" y1="1719.5" x2="1237.22" y2="1728.9" stroke="#000" stroke-width="3.9" stroke-linecap="butt"/>
<line x1="1250.15" y1="1719.5" x2="1250.15" y2="1728.9" stroke="#000" stroke-width="3.9" stroke-linecap="butt"/>
<line x1="1261.34" y1="1719.5" x2="1261.34" y2="1728.9" stroke="#000" stroke-width="3.9" stroke-linecap="butt"/>
<line x1="1271.22" y1="1719.5" x2="1271.22" y2="1728.9" stroke="#000" stroke-width="3.9" stroke-linecap="butt"/>
<line x1="1087" y1="1719.5" x2="1087" y2="1736" stroke="#000" stroke-width="3.9" stroke-linecap="butt"/>
<line x1="1280.05" y1="1719.5" x2="1280.05" y2="1736" stroke="#000" stroke-width="3.9" stroke-linecap="butt"/>
<line x1="877.45" y1="1642.22" x2="893.95" y2="1642.22" stroke="#000" stroke-width="3.9" stroke-linecap="butt"/>
<line x1="877.45" y1="1564.94" x2="893.95" y2="1564.94" stroke="#000" stroke-width="3.9" stroke-linecap="butt"/>
<line x1="877.45" y1="1487.66" x2="893.95" y2="1487.66" stroke="#000" stroke-width="3.9" stroke-linecap="butt"/>
<line x1="877.45" y1="1410.38" x2="893.95" y2="1410.38" stroke="#000" stroke-width="3.9" stroke-linecap="butt"/>
<line x1="877.45" y1="1333.1" x2="893.95" y2="1333.1" stroke="#000" stroke-width="3.9" stroke-linecap="butt"/>
<text transform="translate(893.95 1769) scale(1 1.03)" text-anchor="middle" font-size="29.8" font-weight="bold">1</text>
<rect x="886.74" y="1764.07" width="5.88" height="5.83" fill="#fff"/>
<rect x="896.71" y="1764.07" width="5.5" height="5.83" fill="#fff"/>
<text transform="translate(1087 1769) scale(1 1.03)" text-anchor="middle" font-size="29.8" font-weight="bold">10</text>
<rect x="1071.5" y="1764.07" width="5.88" height="5.83" fill="#fff"/>
<rect x="1081.47" y="1764.07" width="5.5" height="5.83" fill="#fff"/>
<text transform="translate(1280.05 1769) scale(1 1.03)" text-anchor="middle" font-size="29.8" font-weight="bold">100</text>
<rect x="1256.27" y="1764.07" width="5.88" height="5.83" fill="#fff"/>
<rect x="1266.23" y="1764.07" width="5.5" height="5.83" fill="#fff"/>
<text transform="translate(872.05 1730.02) scale(1 1.03)" text-anchor="end" font-size="29.8" font-weight="bold">0.00</text>
<text transform="translate(872.05 1652.74) scale(1 1.03)" text-anchor="end" font-size="29.8" font-weight="bold">0.02</text>
<text transform="translate(872.05 1575.46) scale(1 1.03)" text-anchor="end" font-size="29.8" font-weight="bold">0.04</text>
<text transform="translate(872.05 1498.18) scale(1 1.03)" text-anchor="end" font-size="29.8" font-weight="bold">0.06</text>
<text transform="translate(872.05 1420.9) scale(1 1.03)" text-anchor="end" font-size="29.8" font-weight="bold">0.08</text>
<text transform="translate(872.05 1343.62) scale(1 1.03)" text-anchor="end" font-size="29.8" font-weight="bold">0.10</text>
<rect x="839.98" y="1338.68" width="5.88" height="5.83" fill="#fff"/>
<rect x="849.95" y="1338.68" width="5.5" height="5.83" fill="#fff"/>
<text transform="translate(962.52 1818.6) scale(1 1.06)" font-size="31.14" font-weight="bold" fill="#000">LF SBP (mmHg<tspan dy="-10.9" font-size="23.66">2</tspan><tspan dy="10.9">)</tspan></text>
<text transform="translate(755.9 1612.67) rotate(-90) scale(1 1.06)" font-size="31.01" font-weight="bold">LF Gxy cTOI</text>
<text transform="translate(794.5 1602.96) rotate(-90) scale(1 1.06)" font-size="31.23" font-weight="bold">(%/mmHg)</text>
<rect x="1056.49" y="1586.9" width="15" height="15" fill="#0000ff"/>
<rect x="1080.17" y="1584.4" width="15" height="15" fill="#0000ff"/>
<rect x="1090.19" y="1581.6" width="15" height="15" fill="#0000ff"/>
<rect x="1099.14" y="1595.6" width="15" height="15" fill="#0000ff"/>
<rect x="1105.28" y="1579.5" width="15" height="15" fill="#0000ff"/>
<path d="M1085.82 1483.15L1093.42 1498.25L1078.22 1498.25Z" fill="#d506fa"/>
<circle cx="1070.97" cy="1577.4" r="7.7" fill="#d7060e"/>
<circle cx="1085.56" cy="1590.2" r="7.7" fill="#d7060e"/>
<circle cx="1113.39" cy="1589.5" r="7.7" fill="#d7060e"/>
<circle cx="1133.25" cy="1614.3" r="7.7" fill="#d7060e"/>
<circle cx="1186.33" cy="1615.2" r="7.7" fill="#d7060e"/>
<line x1="1331" y1="44.7" x2="1372" y2="44.7" stroke="#d7060e" stroke-width="2.4" stroke-linecap="round"/>
<circle cx="1351.5" cy="44.7" r="7.75" fill="#d7060e"/>
<line x1="1331" y1="98.8" x2="1372" y2="98.8" stroke="#0000ff" stroke-width="2.4" stroke-linecap="round"/>
<rect x="1343.75" y="90.95" width="15.5" height="15.5" fill="#0000ff"/>
<path d="M1349.3 143.9L1357 158.7L1341.6 158.7Z" fill="#d506fa"/>
<text transform="translate(1394.9 55.3) scale(1 1.06)" font-size="31.73" font-weight="normal" fill="#000"><tspan font-weight="normal">LBNP</tspan></text>
<text transform="translate(1394.9 109.5) scale(1 1.06)" font-size="31.7" font-weight="normal" fill="#000"><tspan font-weight="normal">LBPP</tspan></text>
<text transform="translate(1392.85 161.7) scale(1 1.06)" font-size="31.04" font-weight="normal" fill="#000"><tspan font-weight="normal">LBPP+Hypoxia</tspan></text>
</svg>
</body></html>
